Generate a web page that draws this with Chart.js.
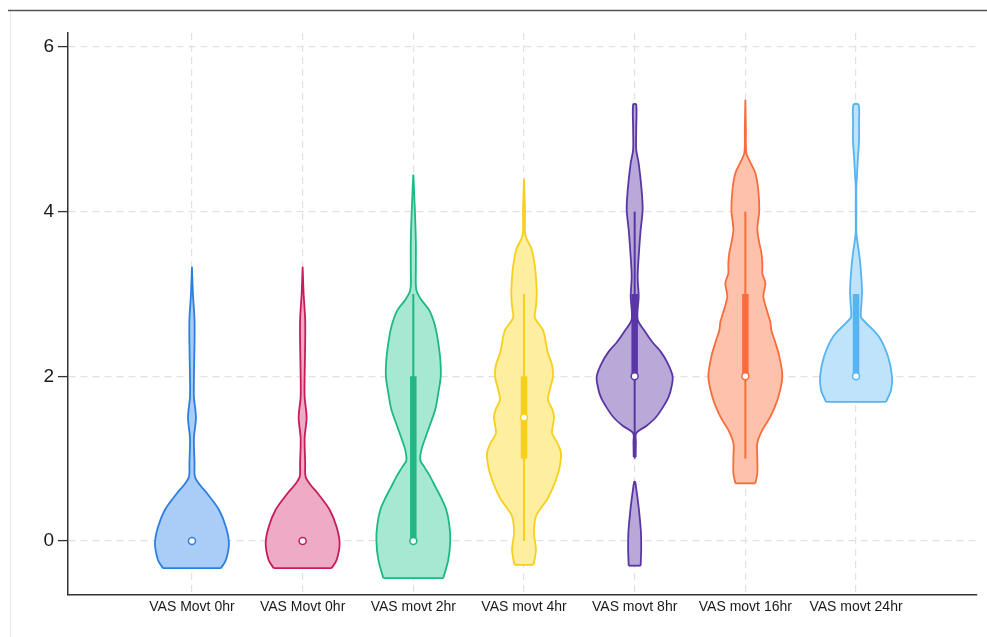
<!DOCTYPE html>
<html>
<head>
<meta charset="utf-8">
<script src="https://cdn.jsdelivr.net/npm/chart.js@4.4.1/dist/chart.umd.min.js"></script>
<style>
  html, body { margin: 0; padding: 0; background: #fff; }
  #wrap { width: 987px; height: 637px; position: relative; }
</style>
</head>
<body>
<div id="wrap"><canvas id="violins"></canvas></div>
<script>
// categories and axis ticks
const categories = ['VAS Movt 0hr', 'VAS Movt 0hr', 'VAS movt 2hr', 'VAS movt 4hr', 'VAS movt 8hr', 'VAS movt 16hr', 'VAS movt 24hr'];
const yTicks = [0, 2, 4, 6];

// box plot summaries
const q1Values = [0, 0, 0, 1, 2, 2, 2];
const medianValues = [0, 0, 0, 1.5, 2, 2, 2];
const q3Values = [0, 0, 2, 2, 3, 3, 3];
const whiskerLow = [0, 0, 0, 0, 1, 1, 2];
const whiskerHigh = [0, 0, 3, 3, 4, 4, 3];

// violin outlines: level on y and density half-width at that level (x units)
// a 0 inside a list means no density there (the violin breaks into two parts)
const levels0hrA = [-0.33, -0.23, -0.03, 0.17, 0.38, 0.58, 0.68, 0.78, 0.95, 1.25, 1.5, 1.75, 2.0, 2.4, 2.69, 3.0, 3.33];
const density0hrA = [0.262, 0.307, 0.334, 0.307, 0.244, 0.136, 0.072, 0.027, 0.023, 0.018, 0.036, 0.018, 0.018, 0.023, 0.023, 0.009, 0];

const levels0hrB = [-0.33, -0.23, -0.03, 0.17, 0.38, 0.58, 0.68, 0.78, 0.95, 1.25, 1.5, 1.75, 2.0, 2.4, 2.69, 3.0, 3.33];
const density0hrB = [0.262, 0.307, 0.334, 0.307, 0.244, 0.136, 0.072, 0.027, 0.023, 0.018, 0.036, 0.018, 0.018, 0.023, 0.023, 0.009, 0];

const levels2hr = [-0.45, -0.23, 0.01, 0.2, 0.38, 0.52, 0.66, 0.8, 0.9, 0.98, 1.1, 1.25, 1.39, 1.6, 1.8, 2.0, 2.2, 2.4, 2.6, 2.8, 2.93, 3.05, 3.3, 3.62, 4.02, 4.45];
const density2hr = [0.271, 0.316, 0.334, 0.325, 0.298, 0.253, 0.199, 0.145, 0.099, 0.063, 0.072, 0.108, 0.145, 0.199, 0.226, 0.248, 0.244, 0.226, 0.199, 0.145, 0.072, 0.027, 0.023, 0.023, 0.014, 0];

const levels4hr = [-0.29, -0.11, 0.1, 0.3, 0.42, 0.5, 0.65, 0.78, 0.92, 1.07, 1.2, 1.31, 1.41, 1.51, 1.61, 1.71, 1.85, 2.0, 2.14, 2.28, 2.4, 2.56, 2.71, 2.85, 3.01, 3.2, 3.33, 3.54, 3.66, 3.74, 4.0, 4.4];
const density4hr = [0.086, 0.108, 0.09, 0.108, 0.163, 0.208, 0.262, 0.298, 0.325, 0.334, 0.298, 0.253, 0.262, 0.271, 0.253, 0.217, 0.235, 0.262, 0.253, 0.217, 0.199, 0.172, 0.099, 0.108, 0.115, 0.108, 0.099, 0.07, 0.027, 0.009, 0.009, 0];

const levels8hr = [-0.3, -0.1, 0.1, 0.25, 0.41, 0.6, 0.72, 0.85, 1.02, 1.2, 1.31, 1.4, 1.5, 1.62, 1.75, 1.88, 2.0, 2.16, 2.3, 2.41, 2.55, 2.69, 2.97, 3.21, 3.45, 3.78, 4.02, 4.26, 4.59, 4.75, 5.0, 5.3];
const density8hr = [0.054, 0.059, 0.057, 0.048, 0.036, 0.018, 0.004, 0, 0.009, 0.011, 0.014, 0.108, 0.19, 0.253, 0.307, 0.334, 0.343, 0.298, 0.235, 0.163, 0.09, 0.027, 0.036, 0.027, 0.036, 0.054, 0.072, 0.063, 0.036, 0.014, 0.014, 0.014];

const levels16hr = [0.7, 0.82, 1.02, 1.19, 1.35, 1.51, 1.75, 2.0, 2.24, 2.41, 2.56, 2.66, 2.78, 2.97, 3.13, 3.25, 3.37, 3.5, 3.62, 3.78, 3.9, 4.02, 4.26, 4.47, 4.6, 4.71, 5.0, 5.36];
const density16hr = [0.09, 0.108, 0.108, 0.108, 0.154, 0.226, 0.298, 0.334, 0.307, 0.271, 0.235, 0.226, 0.199, 0.163, 0.181, 0.154, 0.154, 0.145, 0.126, 0.108, 0.117, 0.126, 0.117, 0.09, 0.045, 0.009, 0.005, 0];

const levels24hr = [1.69, 1.83, 2.0, 2.24, 2.48, 2.65, 2.72, 2.9, 3.05, 3.33, 3.5, 3.62, 3.75, 4.0, 4.3, 4.45, 4.67, 4.85, 5.08, 5.3];
const density24hr = [0.271, 0.316, 0.325, 0.289, 0.208, 0.09, 0.045, 0.05, 0.054, 0.041, 0.027, 0.014, 0.003, 0.003, 0.003, 0.009, 0.018, 0.027, 0.027, 0.023];

const lineColors = ['#2c7fe0', '#c81c5a', '#1db884', '#f7d01e', '#5a35a6', '#f96c3c', '#56b4f2'];
const fillColors = ['#a9cdf6', '#eeabc5', '#a6e8d2', '#fdeea0', '#b8a9d8', '#fdc1ac', '#bee3fb'];

const levelSets = [levels0hrA, levels0hrB, levels2hr, levels4hr, levels8hr, levels16hr, levels24hr];
const densitySets = [density0hrA, density0hrB, density2hr, density4hr, density8hr, density16hr, density24hr];

const fontFamily = "'Liberation Sans', Arial, sans-serif";

// split a violin into parts wherever the density drops to 0 inside the list
function splitParts(ys, ws) {
    const parts = [];
    let cur = [];
    ys.forEach((y, k) => {
        const inside = k > 0 && k < ys.length - 1;
        if (inside && ws[k] === 0) {
            if (cur.length) parts.push(cur);
            cur = [];
        } else {
            cur.push(k);
        }
    });
    if (cur.length) parts.push(cur);
    return parts;
}

const datasets = [];
categories.forEach((name, i) => {
    const c = i + 1;
    const ys = levelSets[i];
    const ws = densitySets[i];

    splitParts(ys, ws).forEach((idx, p) => {
        const right = idx.map(k => ({ x: c + ws[k], y: ys[k] }));
        const left = idx.map(k => ({ x: c - ws[k], y: ys[k] })).reverse();
        // outline of the violin, filled as a closed shape
        datasets.push({
            data: right.concat(left),
            borderColor: lineColors[i],
            backgroundColor: fillColors[i],
            borderWidth: 1.8,
            fill: 'shape',
            tension: 0.3,
            pointRadius: 0,
            order: 40
        });
        // flat bottom edge
        if (p === 0) {
            datasets.push({
                data: [left[left.length - 1], right[0]],
                borderColor: lineColors[i],
                borderWidth: 1.8,
                fill: false,
                tension: 0,
                pointRadius: 0,
                order: 39
            });
        }
    });

    if (whiskerHigh[i] > whiskerLow[i]) {
        datasets.push({
            data: [{ x: c, y: whiskerLow[i] }, { x: c, y: whiskerHigh[i] }],
            borderColor: lineColors[i],
            borderWidth: 2,
            fill: false,
            pointRadius: 0,
            order: 20
        });
    }
    if (q3Values[i] > q1Values[i]) {
        datasets.push({
            data: [{ x: c, y: q1Values[i] }, { x: c, y: q3Values[i] }],
            borderColor: lineColors[i],
            borderWidth: 6.5,
            borderCapStyle: 'butt',
            fill: false,
            pointRadius: 0,
            order: 10
        });
    }
    datasets.push({
        data: [{ x: c, y: medianValues[i] }],
        showLine: false,
        pointRadius: 3.5,
        pointBackgroundColor: '#ffffff',
        pointBorderColor: lineColors[i],
        pointBorderWidth: 1.5,
        order: 0
    });
});

// page frame lines seen around the original figure
const framePlugin = {
    id: 'frame',
    beforeDraw(chart) {
        const ctx = chart.ctx;
        ctx.save();
        ctx.fillStyle = '#ffffff';
        ctx.fillRect(0, 0, chart.width, chart.height);
        ctx.strokeStyle = '#e6e6e6';
        ctx.lineWidth = 1;
        ctx.beginPath();
        ctx.moveTo(10.5, 10);
        ctx.lineTo(10.5, chart.height);
        ctx.stroke();
        ctx.strokeStyle = '#555555';
        ctx.lineWidth = 1.5;
        ctx.beginPath();
        ctx.moveTo(8, 10.5);
        ctx.lineTo(chart.width, 10.5);
        ctx.stroke();
        ctx.restore();
    }
};

new Chart(document.getElementById('violins').getContext('2d'), {
    type: 'line',
    data: { datasets: datasets },
    options: {
        responsive: true,
        maintainAspectRatio: false,
        animation: false,
        events: [],
        layout: { padding: { left: 10, top: 33, right: 10, bottom: 10 } },
        plugins: {
            legend: { display: false },
            tooltip: { enabled: false }
        },
        scales: {
            x: {
                type: 'linear',
                min: -0.12,
                max: 8.093,
                afterBuildTicks: (scale) => { scale.ticks = categories.map((c, i) => ({ value: i + 1 })); },
                afterFit: (scale) => { scale.height = 32; },
                ticks: {
                    autoSkip: false,
                    maxRotation: 0,
                    padding: 4,
                    color: '#1a1a1a',
                    font: { family: fontFamily, size: 14 },
                    callback: (value, index) => categories[index]
                },
                grid: { color: '#e2e2e2', lineWidth: 1.2, drawTicks: false },
                border: { display: true, color: '#333', width: 1.5, dash: [7, 5] }
            },
            y: {
                type: 'linear',
                min: -0.656,
                max: 6.17,
                afterBuildTicks: (scale) => { scale.ticks = yTicks.map(v => ({ value: v })); },
                afterFit: (scale) => { scale.width = 58; },
                ticks: {
                    padding: 4,
                    color: '#1a1a1a',
                    font: { family: fontFamily, size: 19 }
                },
                grid: { color: '#e2e2e2', lineWidth: 1.2, tickLength: 10, tickColor: '#333', tickWidth: 1.3, tickBorderDash: [] },
                border: { display: true, color: '#333', width: 1.5, dash: [7, 5] }
            }
        }
    },
    plugins: [framePlugin]
});
</script>
</body>
</html>
